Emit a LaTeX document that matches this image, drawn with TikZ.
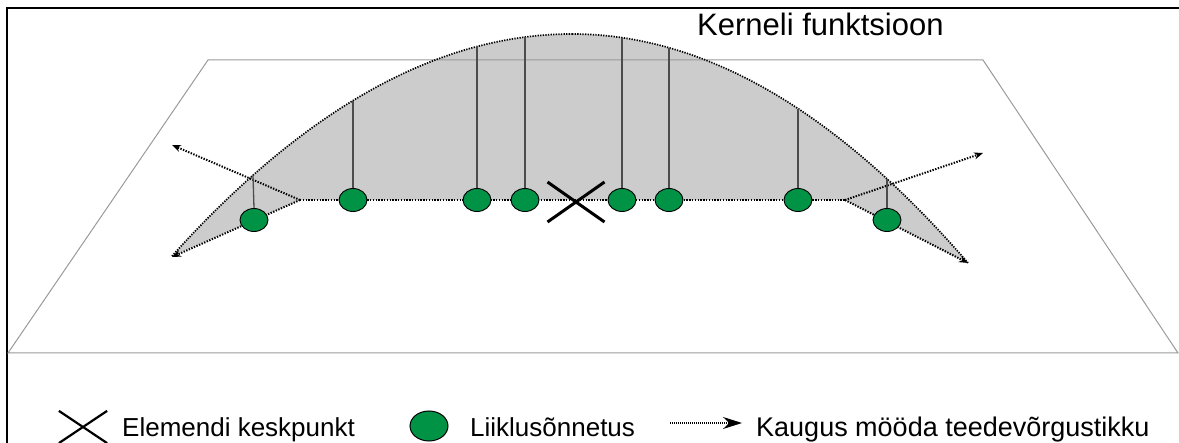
\documentclass[tikz,border=0pt]{standalone}
\usepackage{fontspec}
\setmainfont{Liberation Sans}
\usetikzlibrary{arrows.meta,shapes.geometric,shapes.misc}
\definecolor{accgreen}{HTML}{009245}
\definecolor{kgray}{HTML}{CCCCCC}
\definecolor{planegray}{HTML}{9A9A9A}
\tikzset{
  acc/.style={ellipse, draw=black, line width=0.9pt, fill=accgreen, minimum width=28pt, minimum height=23pt, inner sep=0pt},
  legacc/.style={ellipse, draw=black, line width=1pt, fill=accgreen, minimum width=38pt, minimum height=30pt, inner sep=0pt},
  road/.style={line width=2pt, dash pattern=on 1.4pt off 1.4pt},
  curvedot/.style={line width=1.7pt, dash pattern=on 1.3pt off 1.3pt},
  stem/.style={draw=black!70, line width=1.3pt},
  centerx/.style={cross out, draw=black, line width=3pt, inner sep=0pt},
  tip/.style={-{Stealth[length=9pt,width=7pt]}},
  lbl/.style={anchor=base west, inner sep=0pt, font=\fontsize{26}{26}\selectfont},
}
\begin{document}
\begin{tikzpicture}[x=1pt,y=-1pt]
\useasboundingbox (0,0) rectangle (1179,443);
% frame
\draw[line width=1.5pt] (7,443) -- (7,8) -- (1179,8);
% junctions and arrow ends
\coordinate (jl) at (300,200);
\coordinate (jr) at (845,200);
\coordinate (ll) at (172,257);
\coordinate (lu) at (172,145);
\coordinate (ru) at (983,153);
\coordinate (rl) at (968,263);
% kernel shading
\fill[kgray] plot[domain=172:572,samples=60] (\x,{34+13.88*((\x-572)/100)^2})
  -- plot[domain=572:968,samples=60] (\x,{34+14.6*((\x-572)/100)^2})
  -- (jr) -- (jl) -- cycle;
% plane
\draw[planegray, line width=1pt] (8,353) -- (208,60) -- (983,60) -- (1178,353) -- cycle;
% kernel curve
\draw[curvedot] plot[domain=172:572,samples=60] (\x,{34+13.88*((\x-572)/100)^2});
\draw[curvedot] plot[domain=572:968,samples=60] (\x,{34+14.6*((\x-572)/100)^2});
% roads
\draw[road] (jl) -- (jr);
\draw[road,tip] (jl) -- (ll);
\draw[road,tip] (jl) -- (lu);
\draw[road,tip] (jr) -- (ru);
\draw[road,tip] (jr) -- (rl);
% curve points
\coordinate (t1) at (253,175.2);
\coordinate (t2) at (353,100.6);
\coordinate (t3) at (477,46.5);
\coordinate (t4) at (525,37.1);
\coordinate (t5) at (622,37.6);
\coordinate (t6) at (669,47.7);
\coordinate (t7) at (798,108.6);
\coordinate (t8) at (887,178.9);
% accidents
\node[acc] (a1) at (254,220) {};
\node[acc] (a2) at (353,200) {};
\node[acc] (a3) at (477,200) {};
\node[acc] (a4) at (525,200) {};
\node[acc] (a5) at (622,200) {};
\node[acc] (a6) at (669,200) {};
\node[acc] (a7) at (798,200) {};
\node[acc] (a8) at (887,220) {};
% stems
\draw[stem] (t1) -- (a1.north);
\draw[stem] (t2) -- (a2.north);
\draw[stem] (t3) -- (a3.north);
\draw[stem] (t4) -- (a4.north);
\draw[stem] (t5) -- (a5.north);
\draw[stem] (t6) -- (a6.north);
\draw[stem] (t7) -- (a7.north);
\draw[stem] (t8) -- (a8.north);
% center
\node[centerx, minimum width=54pt, minimum height=37pt] (c) at (576,202) {};
% title
\node[anchor=base west, inner sep=0pt, font=\fontsize{31}{31}\selectfont] (title) at (697,36) {Kerneli funktsioon};
% legend
\node[centerx, line width=2.2pt, minimum width=46pt, minimum height=30pt] (lx) at (83,427) {};
\node[lbl] (lxt) at (122,437) {Elemendi keskpunkt};
\node[legacc] (la) at (429,426) {};
\node[lbl] (lat) at (470,437) {Liiklusõnnetus};
\coordinate (lr1) at (670,423);
\coordinate (lr2) at (742,423);
\draw[line width=1.2pt, dash pattern=on 1pt off 1pt, -{Stealth[length=19pt,width=12pt]}] (lr1) -- (lr2);
\node[lbl, font=\fontsize{27}{27}\selectfont] (lrt) at (756,437) {Kaugus mööda teedevõrgustikku};
\end{tikzpicture}
\end{document}
